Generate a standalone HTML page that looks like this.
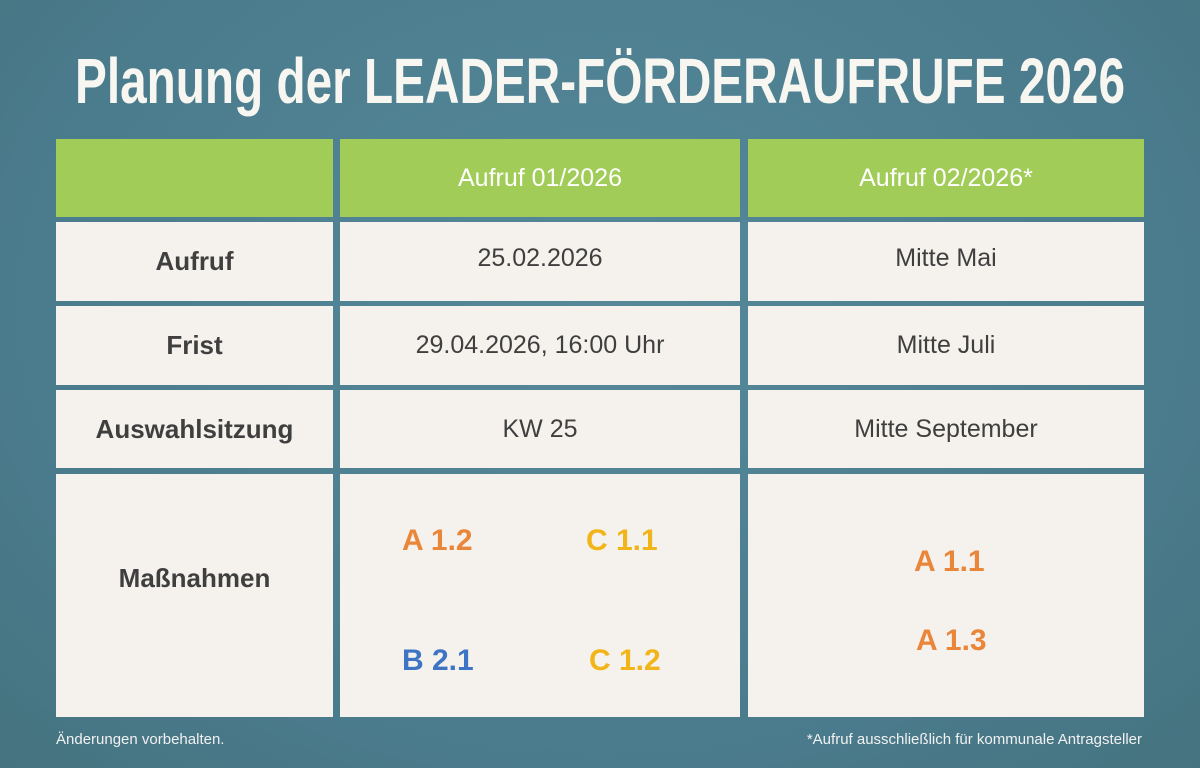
<!DOCTYPE html>
<html><head><meta charset="utf-8"><style>
body{margin:0;width:1200px;height:768px;overflow:hidden;background:radial-gradient(ellipse at 50% 40%,#55899a,#4a7b8c 70%,#45737f);font-family:"Liberation Sans",sans-serif;position:relative}
.c{position:absolute;background:#f5f2ed;display:flex;align-items:center;justify-content:center;color:#3f3f3f;font-size:25px;box-sizing:border-box}
.h{background:#a1cc58;color:#fff;font-size:25px}
.b{font-weight:bold;font-size:26px}
.m{position:absolute;font-weight:bold;font-size:30px}
.o{color:#e9863a}.y{color:#f2b519}.bl{color:#3e74c4}
.f{position:absolute;color:#f1f1f1;font-size:15px;top:731px}
</style></head><body>
<svg width="1200" height="120" style="position:absolute;left:0;top:0">
<text x="75" y="103" textLength="1050" lengthAdjust="spacingAndGlyphs" font-family="Liberation Sans Narrow, Liberation Sans, sans-serif" font-weight="bold" font-size="64" fill="#f8f6f0">Planung der LEADER-FÖRDERAUFRUFE 2026</text>
</svg>
<div class="c h" style="left:56px;top:139px;width:277px;height:78px"></div>
<div class="c h" style="left:340px;top:139px;width:400px;height:78px">Aufruf 01/2026</div>
<div class="c h" style="left:748px;top:139px;width:396px;height:78px">Aufruf 02/2026*</div>

<div class="c b" style="left:56px;top:222px;width:277px;height:79px">Aufruf</div>
<div class="c" style="left:340px;top:222px;width:400px;height:79px;padding-bottom:6px">25.02.2026</div>
<div class="c" style="left:748px;top:222px;width:396px;height:79px;padding-bottom:6px">Mitte Mai</div>

<div class="c b" style="left:56px;top:306px;width:277px;height:79px">Frist</div>
<div class="c" style="left:340px;top:306px;width:400px;height:79px">29.04.2026, 16:00 Uhr</div>
<div class="c" style="left:748px;top:306px;width:396px;height:79px">Mitte Juli</div>

<div class="c b" style="left:56px;top:390px;width:277px;height:78px">Auswahlsitzung</div>
<div class="c" style="left:340px;top:390px;width:400px;height:78px">KW 25</div>
<div class="c" style="left:748px;top:390px;width:396px;height:78px">Mitte September</div>

<div class="c b" style="left:56px;top:474px;width:277px;height:243px;padding-bottom:34px">Maßnahmen</div>
<div class="c" style="left:340px;top:474px;width:400px;height:243px"></div>
<div class="c" style="left:748px;top:474px;width:396px;height:243px"></div>
<div class="m o" style="left:402px;top:524px">A 1.2</div>
<div class="m y" style="left:586px;top:524px">C 1.1</div>
<div class="m bl" style="left:402px;top:644px">B 2.1</div>
<div class="m y" style="left:589px;top:644px">C 1.2</div>
<div class="m o" style="left:914px;top:545px">A 1.1</div>
<div class="m o" style="left:916px;top:624px">A 1.3</div>
<div class="f" style="left:56px">Änderungen vorbehalten.</div>
<div class="f" style="right:58px">*Aufruf ausschließlich für kommunale Antragsteller</div>
</body></html>
